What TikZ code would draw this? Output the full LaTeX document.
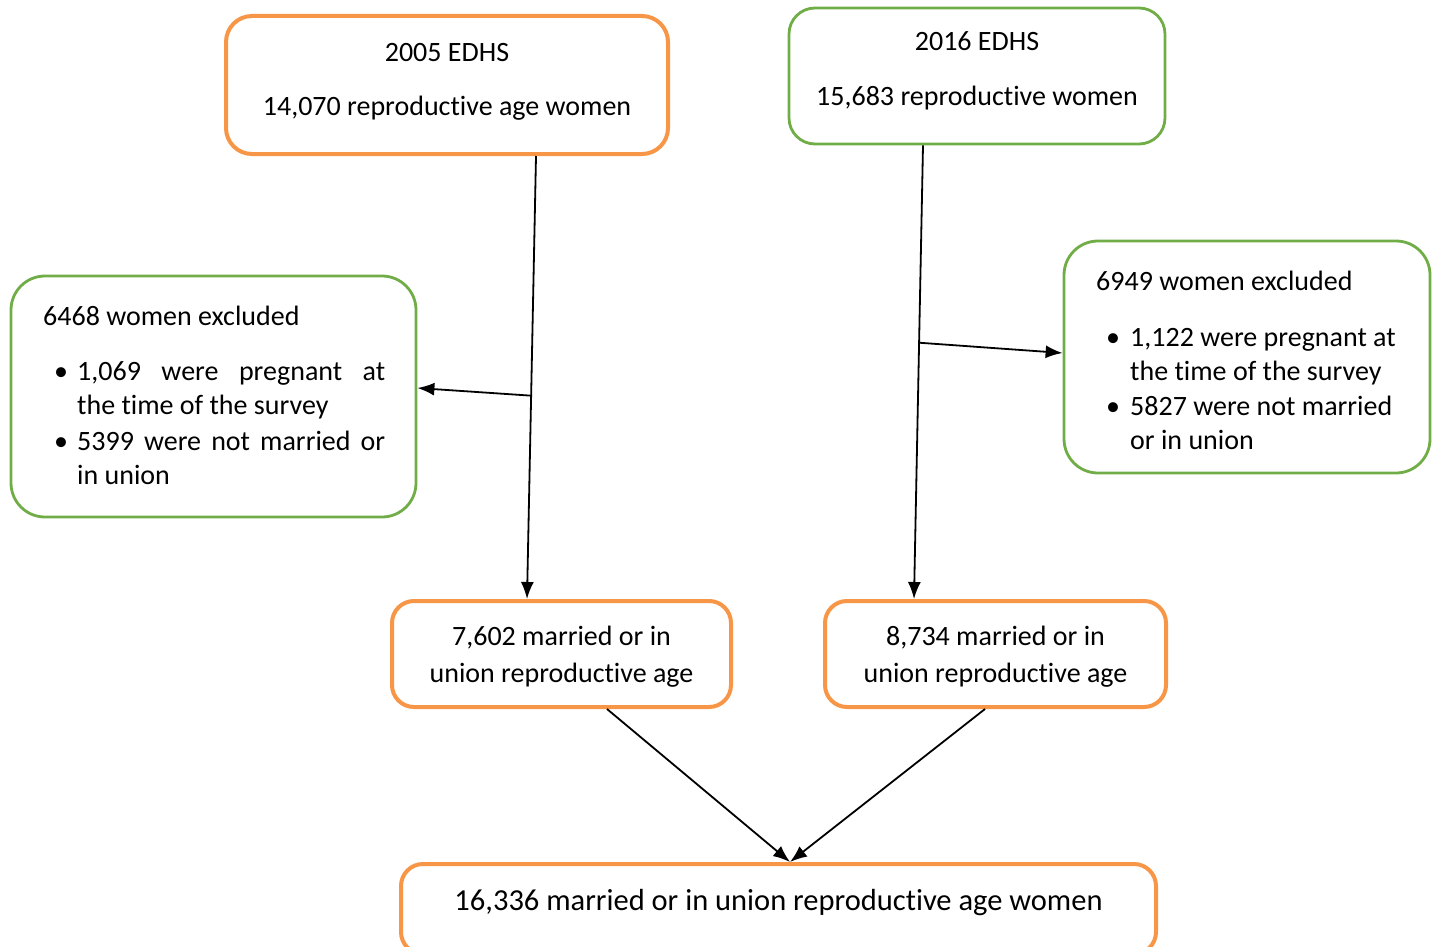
\documentclass[tikz,border=0pt]{standalone}
\usepackage{fontspec}
\setmainfont{Carlito}[Ligatures={NoCommon}]
\usetikzlibrary{arrows.meta,calc}
\definecolor{orng}{HTML}{F79646}
\definecolor{grn}{HTML}{70AD47}
\begin{document}
\begin{tikzpicture}[x=1pt,y=-1pt,
  obox/.style={draw=orng, line width=4pt, inner sep=0, rounded corners=22pt},
  gbox/.style={draw=grn, line width=2.8pt, inner sep=0, rounded corners=34pt},
  txt/.style={inner sep=0, font=\fontsize{28}{34}\selectfont},
  arr/.style={line width=1.8pt, -{Latex[length=17pt,width=13pt]}}]
\useasboundingbox (0,0) rectangle (1434,947);
% boxes
\node[obox, rounded corners=26pt, minimum width=442pt, minimum height=138pt] (A) at (447,85) {};
\node[gbox, rounded corners=26pt, minimum width=376pt, minimum height=136pt] (B) at (977,76) {};
\node[gbox, minimum width=405pt, minimum height=241pt] (C) at (213.5,396.5) {};
\node[gbox, minimum width=366pt, minimum height=232pt] (D) at (1247,357) {};
\node[obox, minimum width=339pt, minimum height=106pt] (E) at (561.5,654) {};
\node[obox, minimum width=341pt, minimum height=106pt] (F) at (995.5,654) {};
\node[obox, minimum width=755pt, minimum height=90pt] (G) at (778.5,909) {};
% texts
\node[txt, anchor=base] (A1) at (447,62) {2005 EDHS};
\node[txt, anchor=base] (A2) at (447,116) {14,070 reproductive age women};
\node[txt, anchor=base] (B1) at (977,51) {2016 EDHS};
\node[txt, anchor=base] (B2) at (977,106) {15,683 reproductive women};
\node[txt, anchor=base west] (C1) at (43,325) {6468 women excluded};
\node[txt, anchor=base] (Cb1) at (61,380) {•};
\node[txt, anchor=base west] (C2) at (77,380) {\makebox[308pt][s]{1,069 were pregnant at}};
\node[txt, anchor=base west] (C3) at (77,414) {the time of the survey};
\node[txt, anchor=base] (Cb2) at (61,450) {•};
\node[txt, anchor=base west] (C4) at (77,450) {\makebox[308pt][s]{5399 were not married or}};
\node[txt, anchor=base west] (C5) at (77,484) {in union};
\node[txt, anchor=base west] (D1) at (1096,290) {6949 women excluded};
\node[txt, anchor=base] (Db1) at (1113,346) {•};
\node[txt, anchor=base west] (D2) at (1130,346) {1,122 were pregnant at};
\node[txt, anchor=base west] (D3) at (1130,380) {the time of the survey};
\node[txt, anchor=base] (Db2) at (1113,415) {•};
\node[txt, anchor=base west] (D4) at (1130,415) {5827 were not married};
\node[txt, anchor=base west] (D5) at (1130,449) {or in union};
\node[txt, anchor=base] (E1) at (561.5,645) {7,602 married or in};
\node[txt, anchor=base] (E2) at (561.5,682) {union reproductive age};
\node[txt, anchor=base] (F1) at (995.5,645) {8,734 married or in};
\node[txt, anchor=base] (F2) at (995.5,682) {union reproductive age};
\node[txt, anchor=base, font=\fontsize{30.5}{36}\selectfont] (G1) at (778.5,910) {16,336 married or in union reproductive age women};
% connectors
\coordinate (As) at ([xshift=89pt]A.south);
\coordinate (En) at ([xshift=-34.5pt]E.north);
\coordinate (Bs) at ([xshift=-54pt]B.south);
\coordinate (Fn) at ([xshift=-81.5pt]F.north);
\draw[arr] (As) -- (En);
\draw[arr] (Bs) -- (Fn);
\coordinate (pL) at ($(As)!0.541!(En)$);
\coordinate (pR) at ($(Bs)!0.435!(Fn)$);
\draw[arr] (pL) -- ([yshift=8.5pt]C.east);
\draw[arr] (pR) -- ([yshift=4pt]D.west);
\draw[arr] ([xshift=45.5pt]E.south) -- ([xshift=11.5pt]G.north);
\draw[arr] ([xshift=-10.5pt]F.south) -- ([xshift=11.5pt]G.north);
\end{tikzpicture}
\end{document}
